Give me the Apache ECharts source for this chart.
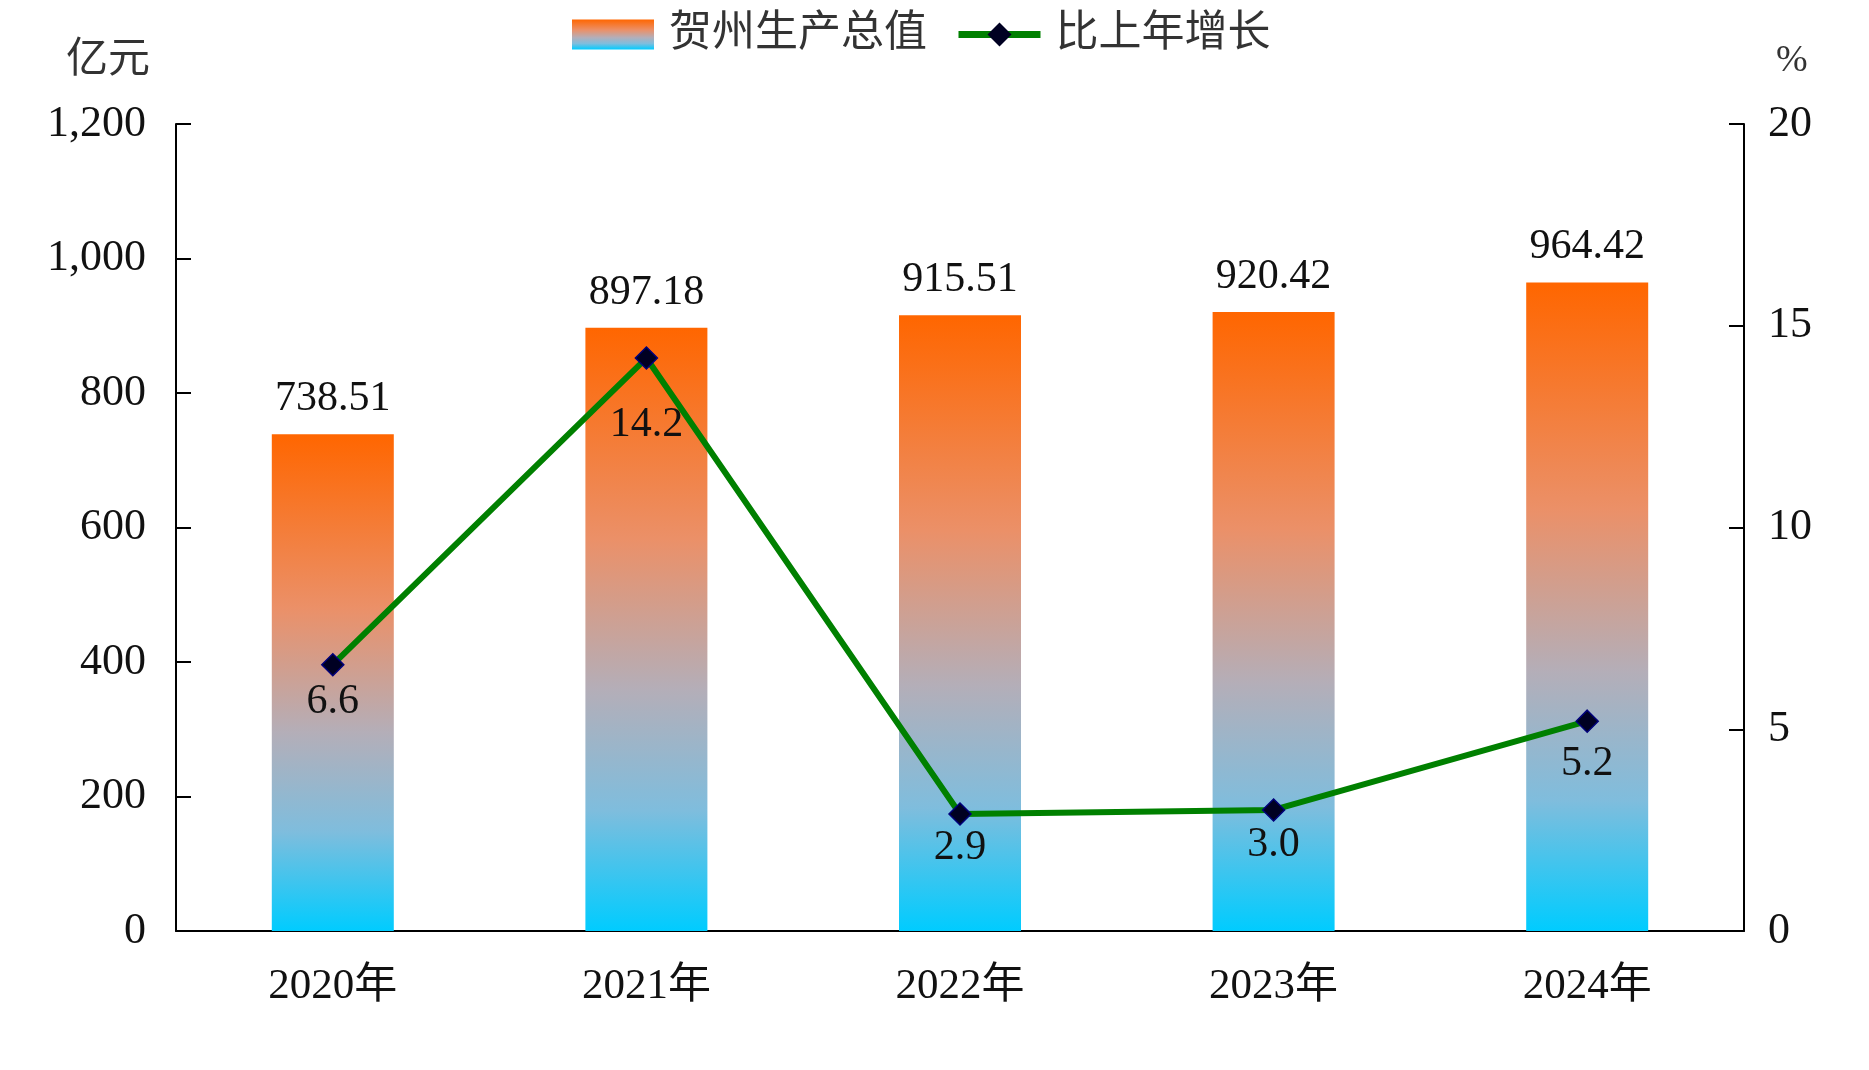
<!DOCTYPE html>
<html>
<head>
<meta charset="utf-8">
<script src="https://cdn.jsdelivr.net/npm/echarts@6/dist/echarts.min.js"></script>
<style>html,body{margin:0;padding:0;background:#fff;}#c{width:1869px;height:1070px;}</style>
</head>
<body>
<div id="c"></div>
<script>
const categories = ['2020年', '2021年', '2022年', '2023年', '2024年'];
const gdpValues = [738.51, 897.18, 915.51, 920.42, 964.42];
const growthValues = [6.6, 14.2, 2.9, 3.0, 5.2];
const growthLabels = ['6.6', '14.2', '2.9', '3.0', '5.2'];

// label distances below each growth point (styling, not data)
const growthLabelDistance = [5, 34, 1, 2, 10];

const FONT = '"Liberation Serif", "Times New Roman", "Noto Sans CJK SC", serif';
const chart = echarts.init(document.getElementById('c'), null, {renderer: 'canvas'});
const barGradient = new echarts.graphic.LinearGradient(0, 0, 0, 1, [
  {offset: 0, color: '#FF6600'},
  {offset: 0.35, color: '#EB9068'},
  {offset: 0.6, color: '#B4AEB8'},
  {offset: 0.8, color: '#7FBDDD'},
  {offset: 1, color: '#00CCFF'}
]);
chart.setOption({
  animation: false,
  textStyle: {fontFamily: FONT},
  legend: {
    top: 8,
    left: 567,
    itemGap: 28,
    itemWidth: 82,
    itemHeight: 30,
    textStyle: {fontFamily: FONT, fontSize: 43, color: '#333', padding: [0, 0, 0, 10]},
    data: [
      {name: '贺州生产总值', icon: 'rect'},
      {name: '比上年增长', itemStyle: {borderWidth: 0}, lineStyle: {width: 7}}
    ]
  },
  grid: {left: 176, right: 125, top: 124, bottom: 139, containLabel: false},
  xAxis: {
    type: 'category',
    data: categories,
    axisLine: {lineStyle: {color: '#000', width: 2}},
    axisTick: {inside: true, length: 17, lineStyle: {color: '#000', width: 2}},
    axisLabel: {color: '#111', fontSize: 43, fontFamily: FONT, margin: 34}
  },
  yAxis: [
    {
      type: 'value', min: 0, max: 1200, interval: 200,
      name: '亿元',
      nameLocation: 'end',
      nameGap: 42,
      nameTextStyle: {fontFamily: FONT, fontSize: 42, color: '#333', align: 'right', padding: [0, 26, 0, 0]},
      splitLine: {show: false},
      axisLine: {show: true, lineStyle: {color: '#000', width: 2}},
      axisTick: {show: true, inside: true, length: 15, lineStyle: {color: '#000', width: 2}},
      axisLabel: {
        color: '#111', fontSize: 44, fontFamily: FONT, margin: 30,
        formatter: v => v.toLocaleString('en-US')
      }
    },
    {
      type: 'value', min: 0, max: 20, interval: 5,
      name: '%',
      nameLocation: 'end',
      nameGap: 44,
      nameTextStyle: {fontFamily: FONT, fontSize: 38, color: '#333', align: 'left', padding: [0, 0, 0, 32]},
      splitLine: {show: false},
      axisLine: {show: true, lineStyle: {color: '#000', width: 2}},
      axisTick: {show: true, inside: true, length: 15, lineStyle: {color: '#000', width: 2}},
      axisLabel: {color: '#111', fontSize: 44, fontFamily: FONT, margin: 24}
    }
  ],
  series: [
    {
      name: '贺州生产总值',
      type: 'bar',
      yAxisIndex: 0,
      data: gdpValues,
      barWidth: 122,
      itemStyle: {color: barGradient},
      label: {
        show: true, position: 'top', distance: 14,
        color: '#111', fontSize: 42, fontFamily: FONT,
        formatter: p => p.value.toFixed(2)
      }
    },
    {
      name: '比上年增长',
      type: 'line',
      yAxisIndex: 1,
      data: growthValues.map((v, i) => ({
        value: v,
        label: {distance: growthLabelDistance[i]}
      })),
      symbol: 'diamond',
      symbolSize: 22,
      lineStyle: {color: '#008000', width: 6},
      itemStyle: {color: '#000022', borderColor: '#00007A', borderWidth: 1.5},
      label: {
        show: true, position: 'bottom',
        color: '#111', fontSize: 42, fontFamily: FONT,
        formatter: p => growthLabels[p.dataIndex]
      },
      z: 5
    }
  ]
});
</script>
</body>
</html>
